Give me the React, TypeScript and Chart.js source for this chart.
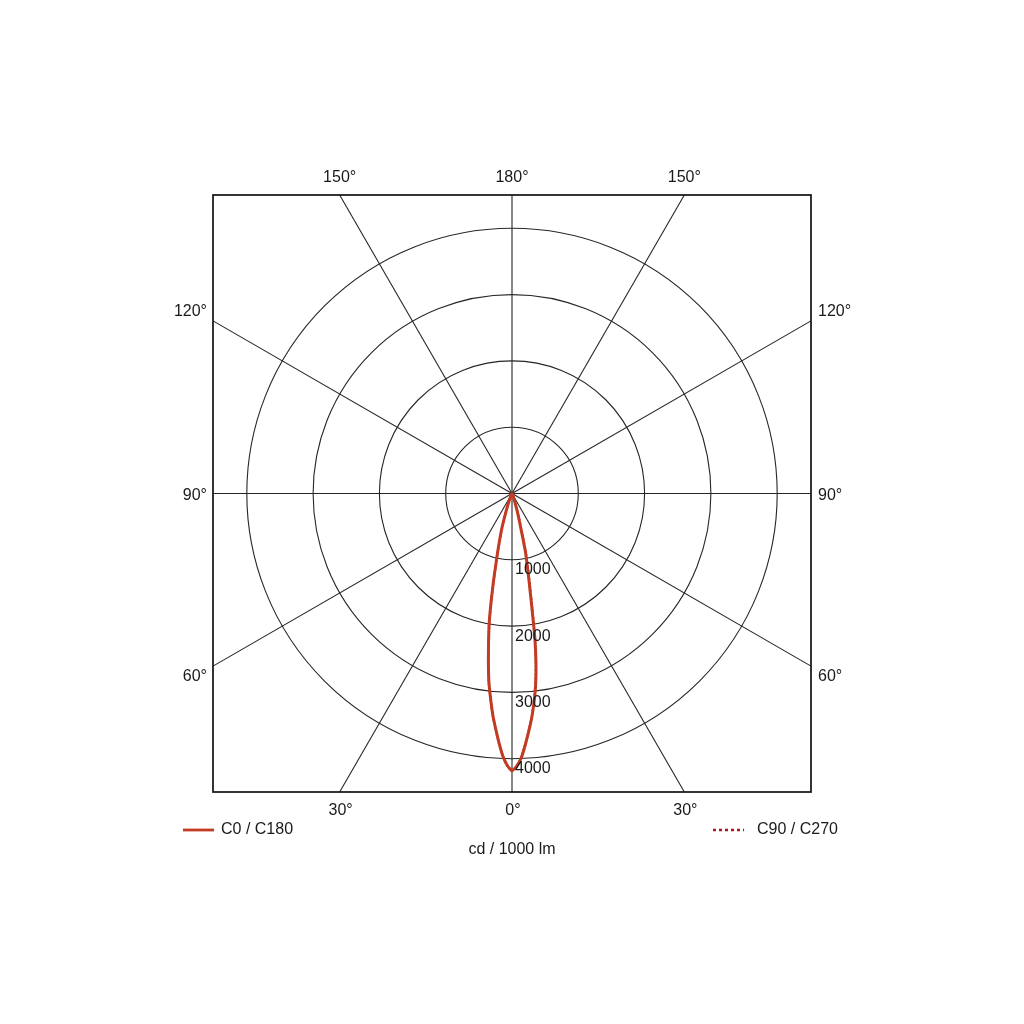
import React, { useEffect, useRef } from "react";
import { Chart, registerables } from "chart.js";

Chart.register(...registerables);

// Gamma angles (degrees from nadir) and luminous intensities (cd / 1000 lm)
const gammaAngles = [0, 1, 2, 3, 4, 5, 6, 7, 8, 9, 10, 11, 12, 13, 14, 16, 18, 20, 22, 25, 30, 35, 40, 50, 60, 70, 80, 90];
const c0Values = [4180, 4110, 3990, 3800, 3600, 3400, 3170, 2920, 2600, 2200, 1700, 1350, 1100, 900, 600, 320, 150, 80, 45, 25, 12, 8, 5, 3, 2, 1, 0, 0];
const c180Values = [4180, 4100, 3960, 3760, 3550, 3340, 3100, 2860, 2560, 2260, 1980, 1640, 1330, 1060, 870, 580, 320, 170, 90, 45, 20, 10, 6, 3, 2, 1, 0, 0];
const c90Values = [4180, 4110, 3980, 3790, 3590, 3390, 3160, 2900, 2590, 2220, 1760, 1420, 1180, 960, 700, 380, 190, 100, 55, 30, 14, 8, 5, 3, 2, 1, 0, 0];
const c270Values = [4180, 4100, 3960, 3770, 3560, 3350, 3110, 2870, 2570, 2250, 1960, 1620, 1310, 1040, 850, 560, 310, 160, 85, 42, 18, 9, 5, 3, 2, 1, 0, 0];

const ringValues = [1000, 2000, 3000, 4000];
const ringLabels = ["1000", "2000", "3000", "4000"];
const spokeAngles = [0, 30, 60, 90, 120, 150, 180, 210, 240, 270, 300, 330];
const seriesNames = ["C0 / C180", "C90 / C270"];
const unitLabel = "cd / 1000 lm";
const xLimit = 4510;
const yLimit = 4500;

const FONT = '16px "Liberation Sans", Arial, sans-serif';
const SOLID_COLOR = "#c23b22";
const DOTTED_COLOR = "#b3121c";
const TEXT_COLOR = "#1a1a1a";

function polarCurve(left: number[], right: number[]) {
  const pts: { x: number; y: number }[] = [];
  for (let i = gammaAngles.length - 1; i >= 0; i--) {
    const g = (gammaAngles[i] * Math.PI) / 180;
    pts.push({ x: -left[i] * Math.sin(g), y: -left[i] * Math.cos(g) });
  }
  for (let i = 1; i < gammaAngles.length; i++) {
    const g = (gammaAngles[i] * Math.PI) / 180;
    pts.push({ x: right[i] * Math.sin(g), y: -right[i] * Math.cos(g) });
  }
  return pts;
}

function spokeEnd(a: number, cx: number, cy: number, halfW: number, halfH: number) {
  const rad = (a * Math.PI) / 180;
  const dx = -Math.sin(rad);
  const dy = Math.cos(rad);
  const t = Math.min(
    Math.abs(dx) > 1e-9 ? halfW / Math.abs(dx) : Infinity,
    Math.abs(dy) > 1e-9 ? halfH / Math.abs(dy) : Infinity
  );
  return { px: cx + dx * t, py: cy + dy * t };
}

const polarGridPlugin = {
  id: "polarGrid",
  beforeDatasetsDraw(chart: any) {
    const { ctx, chartArea } = chart;
    const xs = chart.scales.x;
    const ys = chart.scales.y;
    const cx = xs.getPixelForValue(0);
    const cy = ys.getPixelForValue(0);
    const halfW = (chartArea.right - chartArea.left) / 2;
    const halfH = (chartArea.bottom - chartArea.top) / 2;
    ctx.save();
    ctx.strokeStyle = "#262626";
    ctx.lineWidth = 1.1;
    ringValues.forEach((v) => {
      const r = xs.getPixelForValue(v) - cx;
      ctx.beginPath();
      ctx.arc(cx, cy, r, 0, Math.PI * 2);
      ctx.stroke();
    });
    spokeAngles.forEach((a) => {
      const { px, py } = spokeEnd(a, cx, cy, halfW, halfH);
      ctx.beginPath();
      ctx.moveTo(cx, cy);
      ctx.lineTo(px, py);
      ctx.stroke();
    });
    ctx.strokeStyle = "#111";
    ctx.lineWidth = 1.7;
    ctx.strokeRect(chartArea.left, chartArea.top, chartArea.right - chartArea.left, chartArea.bottom - chartArea.top);
    ctx.restore();
  },
  afterDraw(chart: any) {
    const { ctx, chartArea } = chart;
    const xs = chart.scales.x;
    const ys = chart.scales.y;
    const cx = xs.getPixelForValue(0);
    const cy = ys.getPixelForValue(0);
    const halfW = (chartArea.right - chartArea.left) / 2;
    const halfH = (chartArea.bottom - chartArea.top) / 2;
    ctx.save();
    ctx.font = FONT;
    ctx.fillStyle = TEXT_COLOR;

    // angle labels
    spokeAngles.forEach((a) => {
      const { px, py } = spokeEnd(a, cx, cy, halfW, halfH);
      const label = (a <= 180 ? a : 360 - a) + "°";
      ctx.textBaseline = "middle";
      if (Math.abs(py - chartArea.bottom) < 1) {
        ctx.textAlign = "center";
        ctx.fillText(label, px + 1, chartArea.bottom + 19);
      } else if (Math.abs(py - chartArea.top) < 1) {
        ctx.textAlign = "center";
        ctx.fillText(label, px, chartArea.top - 17);
      } else if (Math.abs(px - chartArea.left) < 1) {
        ctx.textAlign = "right";
        const off = Math.abs(py - cy) < 1 ? 2 : Math.sign(py - cy) * 10 + 0.5;
        ctx.fillText(label, chartArea.left - 6, py + off);
      } else {
        ctx.textAlign = "left";
        const off = Math.abs(py - cy) < 1 ? 2 : Math.sign(py - cy) * 10 + 0.5;
        ctx.fillText(label, chartArea.right + 7, py + off);
      }
    });

    // ring labels
    ctx.textAlign = "left";
    ctx.textBaseline = "middle";
    ringValues.forEach((v, i) => {
      const py = ys.getPixelForValue(-v);
      ctx.fillText(ringLabels[i], cx + 3, py + 10);
    });

    // legend
    const ly = chartArea.bottom + 38;
    ctx.strokeStyle = SOLID_COLOR;
    ctx.lineWidth = 2.8;
    ctx.beginPath();
    ctx.moveTo(chartArea.left - 30, ly);
    ctx.lineTo(chartArea.left + 1, ly);
    ctx.stroke();
    ctx.fillText(seriesNames[0], chartArea.left + 8, ly);

    ctx.strokeStyle = DOTTED_COLOR;
    ctx.lineWidth = 2.5;
    ctx.setLineDash([3, 3]);
    ctx.beginPath();
    ctx.moveTo(chartArea.right - 98, ly);
    ctx.lineTo(chartArea.right - 67, ly);
    ctx.stroke();
    ctx.setLineDash([]);
    ctx.fillText(seriesNames[1], chartArea.right - 54, ly);

    ctx.textAlign = "center";
    ctx.fillText(unitLabel, cx, chartArea.bottom + 58);
    ctx.restore();
  },
};

export default function App() {
  const canvasRef = useRef<HTMLCanvasElement | null>(null);

  useEffect(() => {
    document.body.style.margin = "0";
    const canvas = canvasRef.current;
    if (!canvas) return;
    const chart = new Chart(canvas, {
      type: "scatter",
      data: {
        datasets: [
          {
            label: seriesNames[0],
            data: polarCurve(c180Values, c0Values),
            showLine: true,
            borderColor: SOLID_COLOR,
            borderWidth: 3,
            pointRadius: 0,
            tension: 0.15,
            fill: false,
          },
          {
            label: seriesNames[1],
            data: polarCurve(c270Values, c90Values),
            showLine: true,
            borderColor: DOTTED_COLOR,
            borderWidth: 2.2,
            borderDash: [2, 2],
            pointRadius: 0,
            tension: 0.15,
            fill: false,
          },
        ],
      },
      options: {
        responsive: false,
        animation: false,
        devicePixelRatio: 1,
        layout: { padding: { left: 213, right: 213, top: 195, bottom: 232 } },
        scales: {
          x: { type: "linear", min: -xLimit, max: xLimit, display: false },
          y: { type: "linear", min: -yLimit, max: yLimit, display: false },
        },
        plugins: {
          legend: { display: false },
          tooltip: { enabled: false },
        },
      },
      plugins: [polarGridPlugin],
    });
    return () => chart.destroy();
  }, []);

  return (
    <div style={{ width: 1024, height: 1024, background: "#fff" }}>
      <canvas ref={canvasRef} width={1024} height={1024} style={{ display: "block" }} />
    </div>
  );
}
